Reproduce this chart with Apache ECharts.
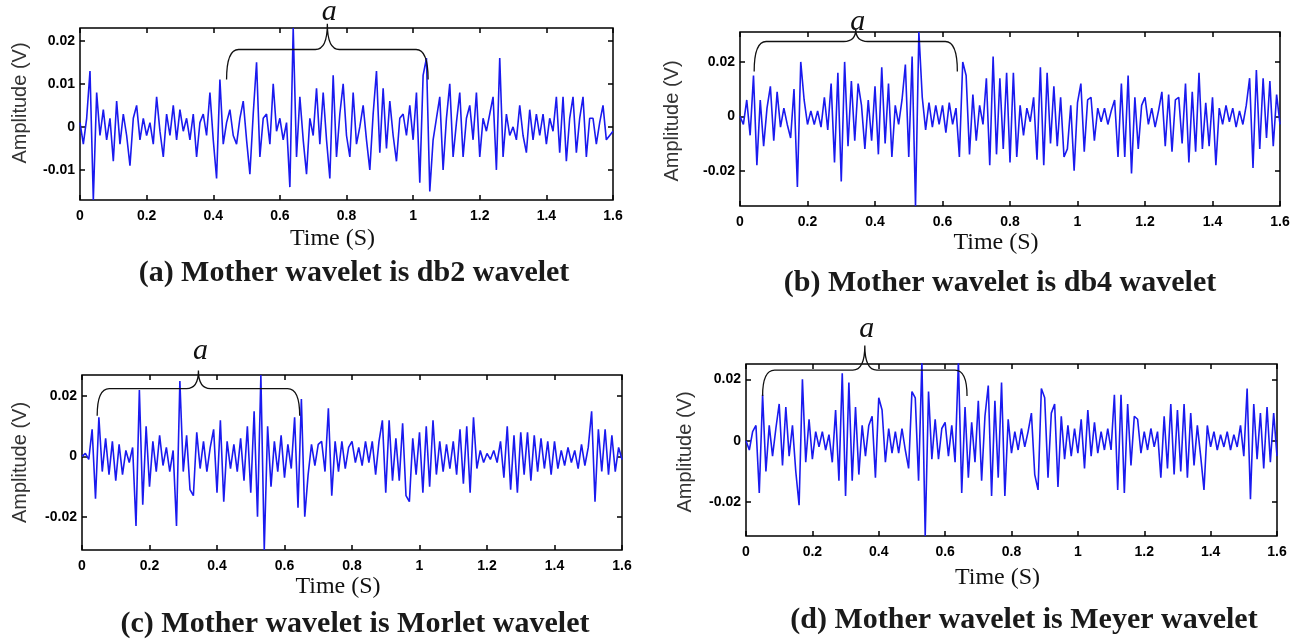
<!DOCTYPE html>
<html>
<head>
<meta charset="utf-8">
<script src="https://cdn.jsdelivr.net/npm/echarts@6/dist/echarts.min.js"></script>
<style>
  html, body { margin: 0; background: #fff; }
  #chart { width: 1301px; height: 644px; }
</style>
</head>
<body>
<div id="chart"></div>
<script>
// sample step of the traces (s)
const DT = 0.01;

// amplitude in mV, one value every DT from 0 to 1.6 s
const db2 = [1, -4, 2, 13, -17, 8, -2, 4, -3, 2, -8, 6, -4, 3, -2, -9, 2, 5, -3, 2,
  -2, 1, -4, 7, -1, -7, 3, -2, 5, -3, 4, -1, 2, -3, 3, -7, 1, 3, -2, 8,
  -3, -12, 11, -4, 1, 4, -2, -4, 2, 6, -3, -11, 3, 15, -7, 2, 3, -4, 10, -1,
  2, -3, 1, -14, 23, -7, 7, -3, -11, 2, -2, 9, -4, 8, -3, -12, 12, -7, 3, 10,
  -2, -7, 8, -4, 0, 5, -3, -10, 3, 13, -6, 9, -5, 6, -2, -8, 2, 3, -2, 5,
  -3, 8, -13, 12, 16, -15, -3, 2, 7, -10, 2, 10, -7, 1, 8, -7, 2, 5, -3, 8,
  -7, 2, -1, 3, 7, -10, 16, -7, 3, -2, 0, -3, 5, -2, -6, 4, -3, 3, -2, 3,
  -4, 2, -1, 7, -6, 7, -8, 2, 7, -6, 2, 7, -7, 2, 2, -4, 1, 5, -3, -2, -1];

const db4 = [0, -3, 6, -7, 15, -18, 6, -11, 3, 11, -9, 9, -4, 3, -3, -8, 10, -26, 20, 6,
  -3, 2, -3, 2, -4, 7, -5, 12, -17, 16, -24, 20, -11, 13, -9, 12, 4, -12, 6, -9,
  11, -14, 18, -10, 12, -15, 4, -3, 6, 19, -15, 22, -33, 31, 7, -5, 5, -4, 4, -3,
  4, -6, 5, -3, 3, -15, 20, 15, -14, 8, -9, 4, -3, 14, -18, 22, -14, 14, -12, 16,
  -17, 16, -15, 4, -7, 3, -2, 7, -16, 18, -18, 16, -10, 11, -11, 7, -15, -12, 4, -20,
  5, 12, -13, 6, 7, -9, 3, -2, 3, -3, 2, 6, -15, 12, -15, 15, -21, 7, -12, 4,
  7, -3, 3, -4, 2, 9, -11, 8, -13, 6, 7, -10, 12, -17, 9, -13, 16, -12, 5, -11,
  7, -18, 3, -3, 4, -2, 3, -4, 2, -3, 4, 14, -19, 17, -12, 14, -8, 13, -11, 8, -3];

const morlet = [0, 1, -1, 9, -14, 13, -5, 6, -6, 5, -8, 4, -6, 2, -2, 3, -23, 22, -16, 10,
  -10, 5, -5, 7, -3, 3, -5, 2, -23, 25, -5, 7, -11, -13, 8, -4, 5, -5, 3, 9,
  -12, 12, -15, 5, -4, 4, -5, 6, -8, 10, -12, 15, -20, 27, -31, 10, -10, 5, -5, 7,
  -7, 4, -4, 13, -17, 19, -20, -6, 4, -3, 4, 5, -5, 16, -13, 5, -5, 5, -4, 3,
  5, -2, 3, -3, 5, -2, 5, -6, 5, 12, -12, 12, -8, 6, -8, 11, -13, -15, 6, -6,
  8, -12, 10, -10, 12, -6, 5, -5, 4, -4, 5, -6, 9, -9, 10, -12, 13, -4, 2, -2,
  1, -1, 2, -2, 5, -7, 10, -11, 7, -12, 8, -6, 8, -8, 7, -5, 6, -4, 5, -6,
  5, -4, 2, -3, 3, -2, 2, -4, 4, -3, 3, 15, -15, 9, -5, 9, -6, 7, -5, 3, -1];

const meyer = [0, -3, 3, 5, -17, 15, -10, 5, -5, 4, 12, -8, 11, -5, 5, -10, -21, 20, -7, 7,
  -6, 3, -2, 3, -3, 2, -7, 10, -13, 22, -18, 19, -13, 11, -11, 5, -5, 5, 8, -12,
  14, 10, -7, 4, -4, 3, -4, 4, -3, -9, 16, 14, -13, 26, -31, 16, -6, 7, -6, 4,
  6, -5, 5, -7, 26, -17, 11, -12, 6, -7, 13, -13, 8, 18, -18, 13, -12, 19, -18, 7,
  -4, 3, -3, 4, -2, 3, 9, -11, -16, 17, 14, -12, 9, 12, -15, 8, -6, 5, -5, 4,
  -4, 7, -9, 10, -5, 6, -4, 3, -3, 4, -3, 15, -16, 15, -17, 12, -8, 8, 7, -4,
  3, -3, 4, -2, 3, -12, 8, -9, 12, -11, 10, -10, 12, -12, 9, -8, 5, -5, -16, 5,
  -2, 3, -3, 2, -2, 3, -3, 2, -2, 5, -5, 17, -19, 12, -6, 9, -9, 11, -7, 9, -5];

const ampTicksA = [-10, 0, 10, 20];
const ampTicks = [-20, 0, 20];

// segment marked "a" on each trace: [start s, end s]
const segA = [0.44, 1.045];
const segB = [0.042, 0.644];
const segC = [0.045, 0.645];
const segD = [0.05, 0.666];

const captions = [
  '(a) Mother wavelet is db2 wavelet',
  '(b) Mother wavelet is db4 wavelet',
  '(c) Mother wavelet is Morlet wavelet',
  '(d) Mother wavelet is Meyer wavelet'
];

// layout of the four panels
const panels = [
  { data: db2, seg: segA, ticks: ampTicksA, min: -17, max: 23,
    grid: { left: 80, top: 28, width: 533, height: 172 },
    brace: [11, 18, 24], aGap: 12, yGap: 50, yShift: 22, xGap: 27, cap: [354, 273] },
  { data: db4, seg: segB, ticks: ampTicks, min: -33, max: 31,
    grid: { left: 740, top: 32, width: 540, height: 174 },
    brace: [16.5, 27.5, 32], aGap: 7, yGap: 58, yShift: -4, xGap: 25, cap: [1000, 283] },
  { data: morlet, seg: segC, ticks: ampTicks, min: -31, max: 27,
    grid: { left: 82, top: 375, width: 540, height: 175 },
    brace: [13.5, 22.5, 28.5], aGap: 19, yGap: 52, yShift: 0, xGap: 25, cap: [355, 624] },
  { data: meyer, seg: segD, ticks: ampTicks, min: -31, max: 25,
    grid: { left: 746, top: 364, width: 531, height: 172 },
    brace: [14.6, 23, 31], aGap: 16, yGap: 51, yShift: -4, xGap: 30, cap: [1024, 620] }
];

const TRACE = '#1a1aef';
const tickFont = { fontFamily: 'Liberation Sans', fontWeight: 'bold', fontSize: 14, color: '#000' };

const fmtAmp = v => (v === 0 ? '0' : String(+(v / 1000).toFixed(3)));

const grid = [], xAxis = [], yAxis = [], series = [], graphic = [];

panels.forEach((p, i) => {
  grid.push(Object.assign({ show: true, borderColor: '#000', borderWidth: 1.5, backgroundColor: '#fff' }, p.grid));

  const xBase = {
    gridIndex: i, type: 'value', min: 0, max: 1.6, interval: 0.2,
    splitLine: { show: false },
    axisLine: { show: false, onZero: false },
    axisTick: { inside: true, length: 5, lineStyle: { color: '#000', width: 1.5 } }
  };
  xAxis.push(Object.assign({}, xBase, {
    position: 'bottom',
    name: 'Time (S)', nameLocation: 'middle', nameGap: p.xGap,
    nameTextStyle: { fontFamily: 'Liberation Serif', fontSize: 24, color: '#111', padding: [0, 28, 0, 0] },
    axisLabel: Object.assign({ margin: 9, formatter: v => String(+v.toFixed(1)) }, tickFont)
  }));
  xAxis.push(Object.assign({}, xBase, { position: 'top', axisLabel: { show: false } }));

  const yBase = {
    gridIndex: i, type: 'value', min: p.min, max: p.max,
    splitLine: { show: false },
    axisLine: { show: false, onZero: false },
    axisTick: { inside: true, length: 5, customValues: p.ticks, lineStyle: { color: '#000', width: 1.5 } }
  };
  const sh = p.yShift;
  yAxis.push(Object.assign({}, yBase, {
    position: 'left',
    name: 'Amplitude (V)', nameLocation: 'middle', nameGap: p.yGap,
    nameTextStyle: { fontFamily: 'Liberation Sans', fontSize: 20, color: '#333',
      padding: sh > 0 ? [0, 0, 0, sh] : [0, -sh, 0, 0] },
    axisLabel: Object.assign({ margin: 5, customValues: p.ticks, formatter: fmtAmp }, tickFont)
  }));
  yAxis.push(Object.assign({}, yBase, { position: 'right', axisLabel: { show: false } }));

  series.push({
    type: 'line',
    xAxisIndex: 2 * i, yAxisIndex: 2 * i,
    data: p.data.map((v, k) => [k * DT, v]),
    showSymbol: false,
    animation: false,
    lineStyle: { color: TRACE, width: 1.6 }
  });

  // curly brace over the marked segment, with its label
  series.push({
    type: 'custom',
    xAxisIndex: 2 * i, yAxisIndex: 2 * i,
    clip: false, silent: true, animation: false, z: 5,
    data: [[p.seg[0], p.seg[1], p.brace[0], p.brace[1], p.brace[2]]],
    encode: { x: [0, 1], y: [2, 3, 4] },
    renderItem: (params, api) => {
      const s = api.coord([api.value(0), api.value(2)]);
      const e = api.coord([api.value(1), api.value(2)]);
      const h = api.coord([0, api.value(3)])[1];
      const t = api.coord([0, api.value(4)])[1];
      const m = (s[0] + e[0]) / 2;
      const r = 12;
      const d = `M${s[0]},${s[1]} Q${s[0]},${h} ${s[0] + r},${h} L${m - r},${h} Q${m},${h} ${m},${t}` +
        ` Q${m},${h} ${m + r},${h} L${e[0] - r},${h} Q${e[0]},${h} ${e[0]},${e[1]}`;
      return {
        type: 'group',
        children: [
          { type: 'path', shape: { pathData: d }, style: { fill: null, stroke: '#111', lineWidth: 1.3 } },
          { type: 'text', x: m + 2, y: t - p.aGap,
            style: { text: 'a', font: 'italic 30px "Liberation Serif"', fill: '#111', align: 'center', verticalAlign: 'middle' } }
        ]
      };
    }
  });

  graphic.push({
    type: 'text', x: p.cap[0], y: p.cap[1],
    style: { text: captions[i], font: 'bold 30px "Liberation Serif"', fill: '#1a1a1a', align: 'center', verticalAlign: 'middle' }
  });
});

const chart = echarts.init(document.getElementById('chart'));
chart.setOption({
  backgroundColor: '#fff',
  animation: false,
  grid, xAxis, yAxis, series, graphic
});
</script>
</body>
</html>
